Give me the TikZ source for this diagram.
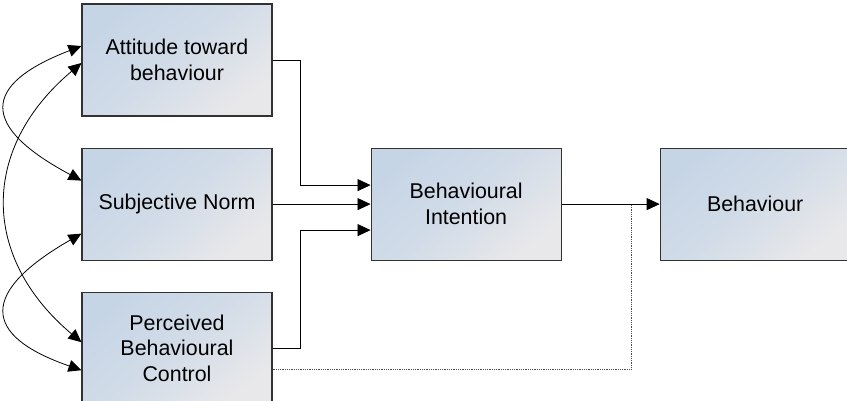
\documentclass[tikz,border=0pt]{standalone}
\usepackage{fontspec}
\setmainfont{Liberation Sans}
\usetikzlibrary{positioning,arrows.meta}
\definecolor{boxtop}{RGB}{198,213,230}
\definecolor{boxmid}{RGB}{210,220,232}
\definecolor{boxbot}{RGB}{232,232,234}
\definecolor{boxline}{RGB}{50,50,50}
\begin{document}
\begin{tikzpicture}[x=1pt,y=-1pt,node distance=31pt and 98pt]
\tikzstyle{box}=[draw=boxline,line width=1.1pt,top color=boxtop,bottom color=boxbot,middle color=boxmid,shading angle=40,minimum width=190pt,minimum height=112pt,align=center,font=\fontsize{21.4}{25.5}\selectfont]
\tikzstyle{arrow}=[draw,line width=0.8pt,-{Triangle[length=13pt,width=12pt]}]
\tikzstyle{biarrow}=[draw,line width=0.8pt,{Triangle[length=13pt,width=12pt]}-{Triangle[length=13pt,width=12pt]}]
\useasboundingbox (0,0) rectangle (847,401);
\node[box](att) at (177,60){Attitude toward\\behaviour};
\node[box,below=of att](norm){Subjective Norm};
\node[box,below=of norm](pbc){Perceived\\Behavioural\\Control};
\node[box,right=of norm](intent){Behavioural\\Intention};
\node[box,right=of intent](behav){Behaviour};
\path(intent.east)--(behav.west)coordinate[pos=0.71](join);
\path[arrow](att.east)--++(28,0)|-([yshift=19pt]intent.west);
\path[arrow](norm.east)--(intent.west);
\path[arrow](pbc.east)--++(28,0)|-([yshift=-26pt]intent.west);
\path[arrow](intent.east)--(behav.west);
\path[draw,densely dotted,black!70,line width=0.8pt]([yshift=-21pt]pbc.east)-|(join);
\path[biarrow]([yshift=14pt]att.west)..controls+(-101,39)and+(-101,-54)..([yshift=23.5pt]norm.west);
\path[biarrow]([yshift=-3pt]att.west)..controls+(-101,85)and+(-101,-85)..([yshift=6pt]pbc.west);
\path[biarrow]([yshift=-29.5pt]norm.west)..controls+(-101,58)and+(-101,-35)..([yshift=-22pt]pbc.west);
\end{tikzpicture}
\end{document}
